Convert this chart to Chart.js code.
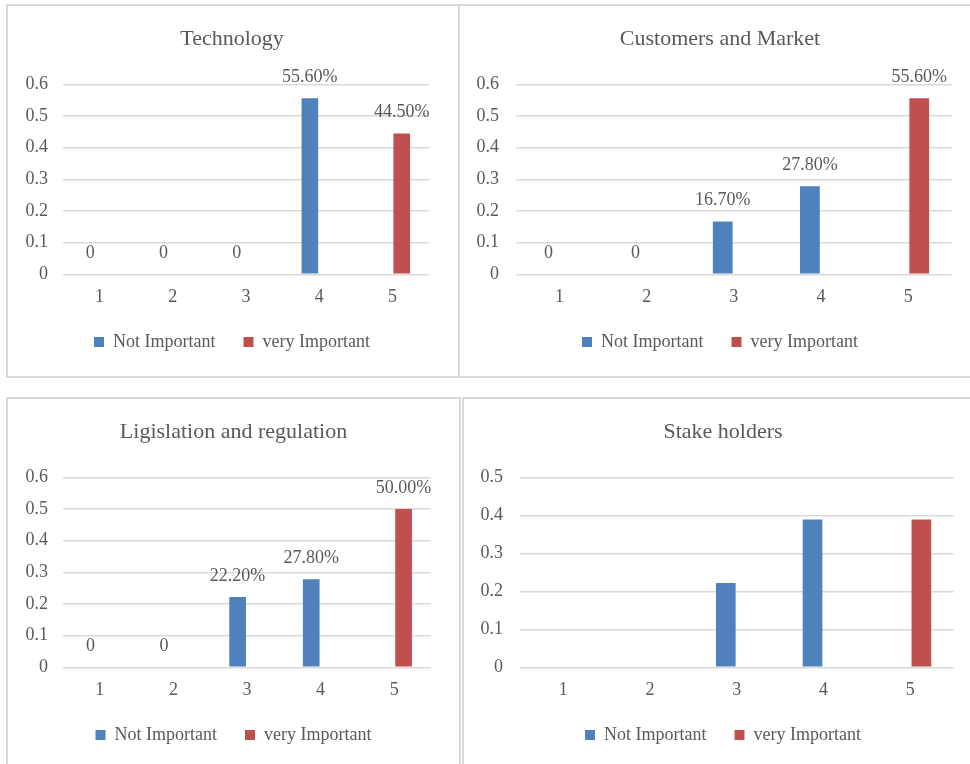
<!DOCTYPE html>
<html>
<head>
<meta charset="utf-8">
<script src="https://cdn.jsdelivr.net/npm/chart.js@4/dist/chart.umd.min.js"></script>
<style>
  html, body { margin:0; padding:0; width:970px; height:764px; overflow:hidden; background:#fff; }
  .panel { position:absolute; box-sizing:border-box; border:2px solid #d9d9d9; background:#fff; }
  .box { position:absolute; }
</style>
</head>
<body>
<div class="panel" style="left:6px;top:4px;width:454px;height:374px;"></div>
<div class="panel" style="left:458px;top:4px;width:530px;height:374px;"></div>
<div class="panel" style="left:6px;top:397px;width:455px;height:400px;"></div>
<div class="panel" style="left:462px;top:397px;width:530px;height:400px;"></div>

<div class="box" style="left:8px;top:6px;width:448px;height:355px;"><canvas id="c1"></canvas></div>
<div class="box" style="left:460px;top:6px;width:520px;height:355px;"><canvas id="c2"></canvas></div>
<div class="box" style="left:8px;top:399px;width:451px;height:355px;"><canvas id="c3"></canvas></div>
<div class="box" style="left:464px;top:399px;width:518px;height:355px;"><canvas id="c4"></canvas></div>

<script>
// ---------- DATA ----------
const categories = ['1', '2', '3', '4', '5'];
const seriesNames = ['Not Important', 'very Important'];

const titles = ['Technology', 'Customers and Market', 'Ligislation and regulation', 'Stake holders'];

const techNotImportant = [0, 0, 0, 0.556, null];
const techVeryImportant = [null, null, null, null, 0.445];

const custNotImportant = [0, 0, 0.167, 0.278, null];
const custVeryImportant = [null, null, null, null, 0.556];

const legisNotImportant = [0, 0, 0.222, 0.278, null];
const legisVeryImportant = [null, null, null, null, 0.5];

const stakeNotImportant = [0, 0, 0.222, 0.389, null];
const stakeVeryImportant = [null, null, null, null, 0.389];

const yMaxValues = [0.6, 0.6, 0.6, 0.5];
const yStep = 0.1;
const showValueLabels = [true, true, true, false];

// ---------- STYLE ----------
const FONT = "'Liberation Serif', 'Times New Roman', serif";
const TEXT = '#595959';
const GRID = '#d9d9d9';
const BLUE = '#4f81bd';
const RED = '#c0504d';

function fmtLabel(v) {
  if (v === null || v === undefined) return null;
  if (v === 0) return '0';
  return (v * 100).toFixed(2) + '%';
}

const valueLabelPlugin = {
  id: 'valueLabels',
  afterDatasetsDraw(chart, args, opts) {
    if (!opts.show) return;
    const ctx = chart.ctx;
    ctx.save();
    ctx.font = '18px ' + FONT;
    ctx.fillStyle = TEXT;
    ctx.textAlign = 'center';
    ctx.textBaseline = 'middle';
    chart.data.datasets.forEach((ds, di) => {
      const meta = chart.getDatasetMeta(di);
      meta.data.forEach((el, i) => {
        const txt = fmtLabel(ds.data[i]);
        if (txt === null) return;
        ctx.fillText(txt, el.x, el.y - 21);
      });
    });
    ctx.restore();
  }
};

function makeChart(id, idx, notImp, veryImp, yPad, rightPad) {
  const yWidth = yPad.width;
  return new Chart(document.getElementById(id), {
    type: 'bar',
    data: {
      labels: categories,
      datasets: [
        { label: seriesNames[0], data: notImp, backgroundColor: BLUE, borderWidth: 0 },
        { label: seriesNames[1], data: veryImp, backgroundColor: RED, borderWidth: 0 }
      ]
    },
    plugins: [valueLabelPlugin],
    options: {
      responsive: true,
      maintainAspectRatio: false,
      animation: false,
      devicePixelRatio: 1,
      categoryPercentage: 0.51,
      barPercentage: 0.89,
      layout: { padding: 0 },
      plugins: {
        valueLabels: { show: showValueLabels[idx] },
        tooltip: { enabled: false },
        title: {
          display: true,
          text: titles[idx],
          color: TEXT,
          font: { family: FONT, size: 22, weight: 'normal', lineHeight: 1.2 },
          padding: { top: 19.8, bottom: 32.1 }
        },
        legend: {
          display: true,
          position: 'bottom',
          labels: {
            color: TEXT,
            font: { family: FONT, size: 18 },
            boxWidth: 10,
            boxHeight: 10,
            padding: 28
          }
        }
      },
      scales: {
        x: {
          grid: { display: false, drawTicks: false },
          border: { display: false },
          ticks: { color: TEXT, font: { family: FONT, size: 18 }, padding: 12, maxRotation: 0 },
          afterFit(s) { s.height = 30.7; }
        },
        y: {
          min: 0,
          max: yMaxValues[idx],
          grid: { color: GRID, lineWidth: 1.5, drawTicks: false },
          border: { display: false },
          ticks: {
            stepSize: yStep,
            color: TEXT,
            font: { family: FONT, size: 18 },
            padding: yPad.padding,
            callback: (v) => v === 0 ? '0' : Number(v).toFixed(1)
          },
          afterFit(s) { s.width = yWidth; }
        },
        yRight: {
          position: 'right',
          display: true,
          grid: { display: false, drawTicks: false },
          border: { display: false },
          ticks: { display: false },
          afterFit(s) { s.width = rightPad; }
        }
      }
    }
  });
}

makeChart('c1', 0, techNotImportant, techVeryImportant, { width: 55, padding: 15 }, 27);
makeChart('c2', 1, custNotImportant, custVeryImportant, { width: 56, padding: 17 }, 28.3);
makeChart('c3', 2, legisNotImportant, legisVeryImportant, { width: 55, padding: 15 }, 28);
makeChart('c4', 3, stakeNotImportant, stakeVeryImportant, { width: 56, padding: 17 }, 28.3);
</script>
</body>
</html>
